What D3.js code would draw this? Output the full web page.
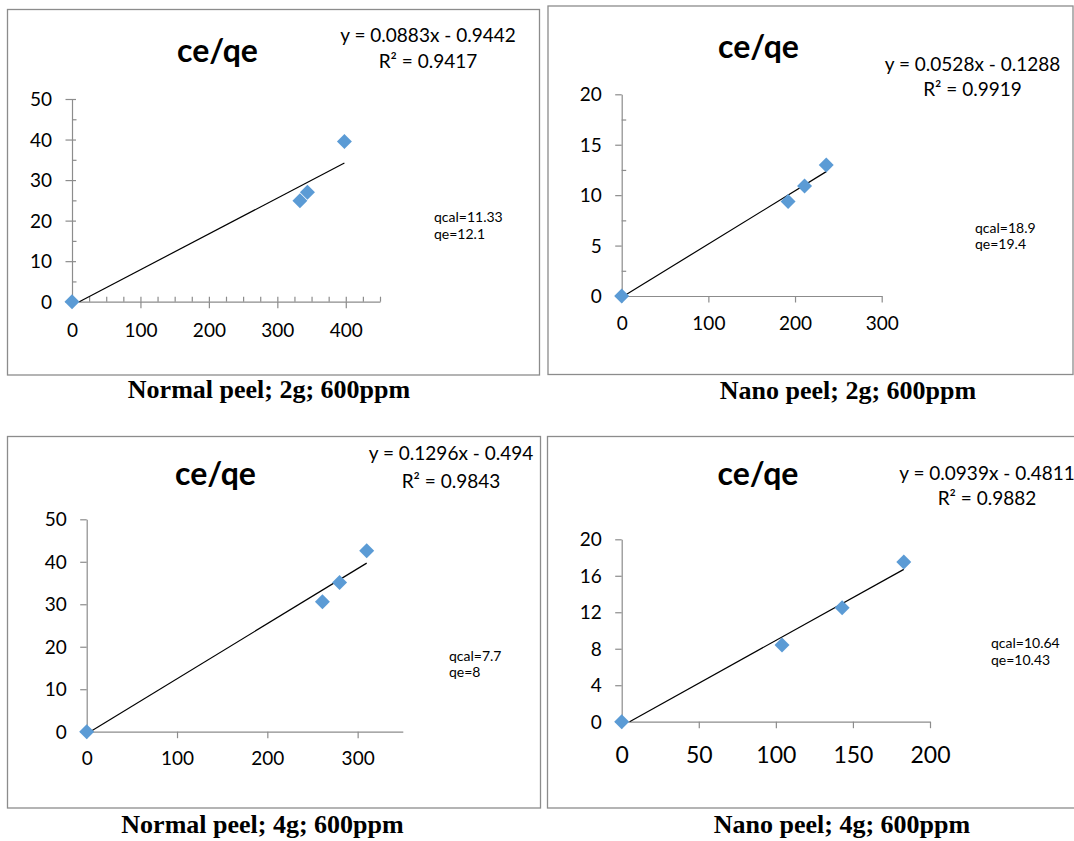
<!DOCTYPE html>
<html>
<head>
<meta charset="utf-8">
<script src="https://cdn.jsdelivr.net/npm/d3@7"></script>
<style>
  html, body { margin: 0; padding: 0; background: #fff; }
  svg { display: block; }
</style>
</head>
<body>
<svg id="chart" width="1074" height="841"></svg>
<script>
// ---------------- DATA ----------------
const chartTitles = ["ce/qe", "ce/qe", "ce/qe", "ce/qe"];
const captions = ["Normal peel; 2g; 600ppm", "Nano peel; 2g; 600ppm", "Normal peel; 4g; 600ppm", "Nano peel; 4g; 600ppm"];
const equationLabels = ["y = 0.0883x - 0.9442", "y = 0.0528x - 0.1288", "y = 0.1296x - 0.494", "y = 0.0939x - 0.4811"];
const r2Labels = ["R² = 0.9417", "R² = 0.9919", "R² = 0.9843", "R² = 0.9882"];
const qcalLabels = ["qcal=11.33", "qcal=18.9", "qcal=7.7", "qcal=10.64"];
const qeLabels = ["qe=12.1", "qe=19.4", "qe=8", "qe=10.43"];
const slopes = [0.0883, 0.0528, 0.1296, 0.0939];
const intercepts = [-0.9442, -0.1288, -0.494, -0.4811];

// series values (x = ce, y = ce/qe)
const ceNormal2g = [0, 333, 344, 398];
const ratioNormal2g = [0, 24.9, 27.0, 39.5];
const ceNano2g = [0, 192, 211, 236];
const ratioNano2g = [0, 9.36, 10.9, 13.0];
const ceNormal4g = [0, 261, 280, 310];
const ratioNormal4g = [0, 30.6, 35.1, 42.6];
const ceNano4g = [0, 104, 143, 183];
const ratioNano4g = [0, 8.4, 12.5, 17.5];

// tick labels
const xTicksP1 = [0, 100, 200, 300, 400];
const xMinorP1 = [25, 50, 75, 125, 150, 175, 225, 250, 275, 325, 350, 375, 425, 450];
const yTicksP1 = [0, 10, 20, 30, 40, 50];
const yMinorP1 = [5, 15, 25, 35, 45];
const xTicksP2 = [0, 100, 200, 300];
const yTicksP2 = [0, 5, 10, 15, 20];
const yMinorP2 = [2.5, 7.5, 12.5, 17.5];
const xTicksP3 = [0, 100, 200, 300];
const yTicksP3 = [0, 10, 20, 30, 40, 50];
const xTicksP4 = [0, 50, 100, 150, 200];
const yTicksP4 = [0, 4, 8, 12, 16, 20];

// ---------------- LAYOUT ----------------
const AXIS_COLOR = "#8c8c8c";
const MARK_COLOR = "#5b9bd5";
const SANS = "Lato, 'Open Sans', sans-serif";
const SERIF = "'Liberation Serif', 'Times New Roman', serif";

const panels = [
  { xs: ceNormal2g, ys: ratioNormal2g, xDom: [0, 450], yDom: [0, 50], xPx: [72, 380], yPx: [301.7, 99],
    xTicks: xTicksP1, xMinor: xMinorP1, yTicks: yTicksP1, yMinor: yMinorP1, cross: true,
    box: [7.5, 9.5, 539.5, 375], title: [217.5, 62], eq: [428, 42, 68], q: [434, 222, 239],
    cap: [269, 398], xLabelSize: 19, xLabelOff: 35 },
  { xs: ceNano2g, ys: ratioNano2g, xDom: [0, 300], yDom: [0, 20], xPx: [621.7, 881.7], yPx: [296, 94.3],
    xTicks: xTicksP2, xMinor: [], yTicks: yTicksP2, yMinor: yMinorP2, cross: false,
    box: [548, 6, 1073, 374.5], title: [758.5, 58], eq: [972.5, 70.5, 96], q: [975, 233, 249],
    cap: [848, 399], xLabelSize: 19, xLabelOff: 34 },
  { xs: ceNormal4g, ys: ratioNormal4g, xDom: [0, 350], yDom: [0, 50], xPx: [86.7, 402.8], yPx: [731.7, 519.3],
    xTicks: xTicksP3, xMinor: [], yTicks: yTicksP3, yMinor: [], cross: false,
    box: [7.5, 436.5, 540.5, 808], title: [215.5, 485], eq: [451, 460, 487.5], q: [449, 661, 677],
    cap: [262.5, 833], xLabelSize: 19, xLabelOff: 33.5 },
  { xs: ceNano4g, ys: ratioNano4g, xDom: [0, 200], yDom: [0, 20], xPx: [621.7, 930], yPx: [721.7, 539.3],
    xTicks: xTicksP4, xMinor: [], yTicks: yTicksP4, yMinor: [], cross: false,
    box: [547.5, 436.5, 1080, 808], title: [758, 485], eq: [987, 480, 505], q: [991, 648, 664.5],
    cap: [842, 833], xLabelSize: 23, xLabelOff: 41.5 }
];

const svg = d3.select("#chart");

panels.forEach((p, i) => {
  const g = svg.append("g");

  // chart-area border
  g.append("rect")
    .attr("x", p.box[0]).attr("y", p.box[1])
    .attr("width", p.box[2] - p.box[0]).attr("height", p.box[3] - p.box[1])
    .attr("fill", "#fff").attr("stroke", AXIS_COLOR).attr("stroke-width", 1.3);

  const x = d3.scaleLinear().domain(p.xDom).range(p.xPx);
  const y = d3.scaleLinear().domain(p.yDom).range(p.yPx);

  // X axis (major ticks outside)
  const gx = g.append("g").attr("transform", `translate(0,${p.yPx[0]})`)
    .call(d3.axisBottom(x).tickValues(p.xTicks).tickSizeInner(6.5).tickSizeOuter(0).tickFormat(d3.format("d")));
  gx.selectAll("text").attr("y", p.xLabelOff).attr("dy", 0)
    .style("font-family", SANS).style("font-size", p.xLabelSize + "px").attr("fill", "#000");
  if (p.cross) {
    g.append("g").attr("transform", `translate(0,${p.yPx[0]})`)
      .call(d3.axisBottom(x).tickValues(p.xTicks.slice(1)).tickSizeInner(-5).tickSizeOuter(0).tickFormat(""))
      .call(a => a.select(".domain").remove());
  }
  if (p.xMinor.length) {
    g.append("g").attr("transform", `translate(0,${p.yPx[0]})`)
      .call(d3.axisBottom(x).tickValues(p.xMinor).tickSizeInner(-5).tickSizeOuter(0).tickFormat(""))
      .call(a => a.select(".domain").remove());
  }

  // Y axis
  const gy = g.append("g").attr("transform", `translate(${p.xPx[0]},0)`)
    .call(d3.axisLeft(y).tickValues(p.yTicks).tickSizeInner(6.5).tickSizeOuter(0).tickFormat(d3.format("d")));
  gy.selectAll("text").attr("x", -20).attr("dy", "0.34em")
    .style("font-family", SANS).style("font-size", "19px").attr("fill", "#000");
  if (p.cross) {
    g.append("g").attr("transform", `translate(${p.xPx[0]},0)`)
      .call(d3.axisLeft(y).tickValues(p.yTicks.slice(1)).tickSizeInner(-4).tickSizeOuter(0).tickFormat(""))
      .call(a => a.select(".domain").remove());
  }
  if (p.yMinor.length) {
    g.append("g").attr("transform", `translate(${p.xPx[0]},0)`)
      .call(d3.axisLeft(y).tickValues(p.yMinor).tickSizeInner(-4.5).tickSizeOuter(0).tickFormat(""))
      .call(a => a.select(".domain").remove());
  }

  g.selectAll(".domain, .tick line").attr("stroke", AXIS_COLOR).attr("stroke-width", 1.2);

  // trendline (from reported equation), clipped to y >= 0
  const m = slopes[i], b = intercepts[i];
  const xStart = Math.max(0, -b / m);
  const xEnd = d3.max(p.xs);
  g.append("line")
    .attr("x1", x(xStart)).attr("y1", y(m * xStart + b))
    .attr("x2", x(xEnd)).attr("y2", y(m * xEnd + b))
    .attr("stroke", "#000").attr("stroke-width", 1.2);

  // markers (diamonds)
  const diamond = d3.symbol().type(d3.symbolSquare).size(112);
  g.selectAll("path.pt").data(p.xs.map((v, k) => [v, p.ys[k]])).join("path")
    .attr("class", "pt")
    .attr("d", diamond)
    .attr("transform", d => `translate(${x(d[0])},${y(d[1])}) rotate(45)`)
    .attr("fill", MARK_COLOR);

  // title
  g.append("text").attr("x", p.title[0]).attr("y", p.title[1])
    .attr("text-anchor", "middle")
    .style("font-family", SANS).style("font-size", "32px").style("font-weight", "bold")
    .text(chartTitles[i]);

  // equation + R²
  g.append("text").attr("x", p.eq[0]).attr("y", p.eq[1]).attr("text-anchor", "middle")
    .style("font-family", SANS).style("font-size", "19px").text(equationLabels[i]);
  g.append("text").attr("x", p.eq[0]).attr("y", p.eq[2]).attr("text-anchor", "middle")
    .style("font-family", SANS).style("font-size", "19px").text(r2Labels[i]);

  // qcal / qe note
  g.append("text").attr("x", p.q[0]).attr("y", p.q[1])
    .style("font-family", SANS).style("font-size", "14px").text(qcalLabels[i]);
  g.append("text").attr("x", p.q[0]).attr("y", p.q[2])
    .style("font-family", SANS).style("font-size", "14px").text(qeLabels[i]);

  // caption
  svg.append("text").attr("x", p.cap[0]).attr("y", p.cap[1]).attr("text-anchor", "middle")
    .style("font-family", SERIF).style("font-size", "26px").style("font-weight", "bold")
    .text(captions[i]);
});
</script>
</body>
</html>
